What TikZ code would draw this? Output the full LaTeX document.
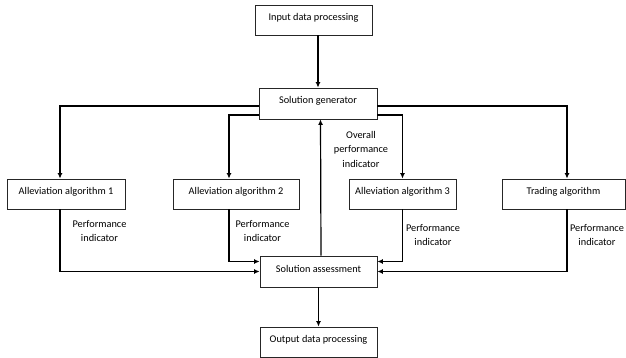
\documentclass[tikz,border=0pt]{standalone}
\usepackage{fontspec}
\setmainfont{Carlito}
\usetikzlibrary{arrows.meta}

\begin{document}
\begin{tikzpicture}[x=1pt,y=-1pt,
    blk/.style={draw=black!85, line width=0.8pt, minimum height=30pt, inner sep=0pt,
        text height=7pt, text depth=6pt, font=\fontsize{10.3}{12}\selectfont},
    lbl/.style={align=center, inner sep=0pt, font=\fontsize{10.3}{14.5}\selectfont},
    arr/.style={line width=1.2pt, -{Latex[length=5.5pt,width=5pt]}}]
  \useasboundingbox (0,0) rectangle (626,358);
  % blocks
  \node[blk, minimum width=117pt] (inp) at (313.5,20) {Input data processing};
  \node[blk, minimum width=118pt, minimum height=31pt] (gen) at (318,103.5) {Solution generator};
  \node[blk, minimum width=118pt] (alg1) at (66,194) {Alleviation algorithm 1};
  \node[blk, minimum width=126pt] (alg2) at (236,194) {Alleviation algorithm 2};
  \node[blk, minimum width=107pt] (alg3) at (402.5,194) {Alleviation algorithm 3};
  \node[blk, minimum width=123pt] (trade) at (563.5,194) {Trading algorithm};
  \node[blk, minimum width=117pt, minimum height=31pt] (ass) at (318.5,271.5) {Solution assessment};
  \node[blk, minimum width=117pt] (out) at (318.5,342) {Output data processing};
  % labels
  \node[lbl] (pi1) at (99.5,231) {Performance\\indicator};
  \node[lbl] (pi2) at (262.5,231) {Performance\\indicator};
  \node[lbl] (pi3) at (433,235) {Performance\\indicator};
  \node[lbl] (pi4) at (597,235) {Performance\\indicator};
  \node[lbl] (opi) at (361,149) {Overall\\performance\\indicator};
  % generator to algorithms
  \draw[arr] (inp.south -| gen.north) -- (gen.north);
  \draw[arr] ([yshift=-2.5pt]gen.west) -| ([xshift=-6pt]alg1.north);
  \draw[arr] ([yshift=-11.5pt]gen.west) -| ([xshift=-7pt]alg2.north);
  \draw[arr] ([yshift=-11.5pt]gen.east) -| (alg3.north);
  \draw[arr] ([yshift=-2.5pt]gen.east) -| ([xshift=3.5pt]trade.north);
  % algorithms to assessment
  \draw[arr] ([xshift=-6pt]alg1.south) |- (ass.west);
  \draw[arr] ([xshift=-7pt]alg2.south) |- ([yshift=10pt]ass.west);
  \draw[arr] (alg3.south) |- ([yshift=10pt]ass.east);
  \draw[arr] ([xshift=3.5pt]trade.south) |- (ass.east);
  \draw[arr] ([xshift=2.5pt]ass.north) -- ([xshift=2.5pt]gen.south);
  \draw[arr] (ass.south) -- (out.north);
\end{tikzpicture}
\end{document}
